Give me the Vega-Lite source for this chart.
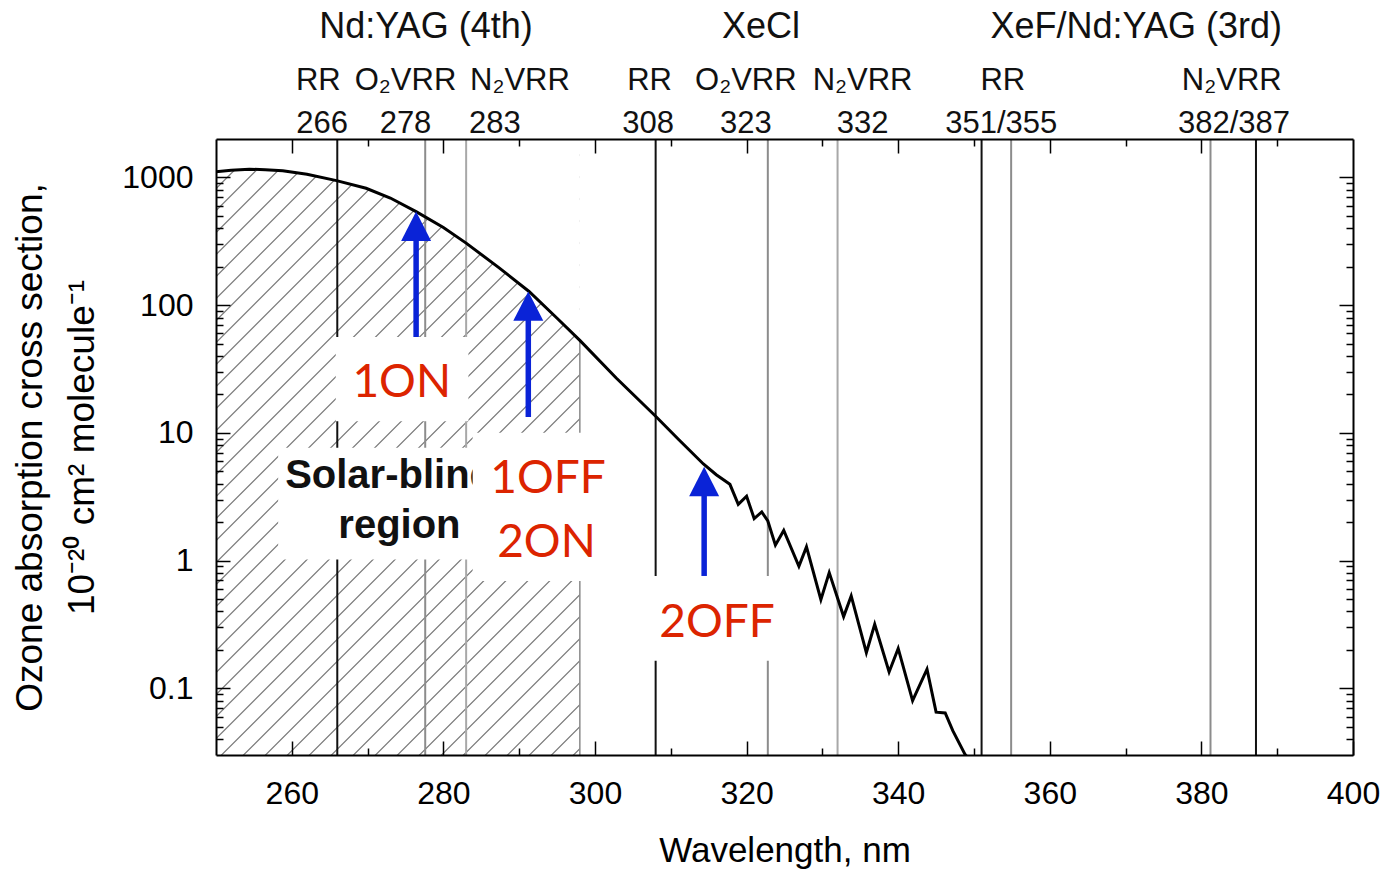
{
  "$schema": "https://vega.github.io/schema/vega-lite/v6.json",
  "width": 1137,
  "height": 616,
  "autosize": {"type": "none"},
  "padding": {"left": 216, "top": 139, "right": 37, "bottom": 116},
  "background": "white",
  "config": {"view": {"stroke": null}, "font": "Liberation Sans"},
  "datasets": {
    "ozone": [
      {"wl": 250, "val": 1110}, {"wl": 252, "val": 1140}, {"wl": 254.4, "val": 1160},
      {"wl": 256.5, "val": 1150}, {"wl": 258.8, "val": 1130}, {"wl": 262, "val": 1060},
      {"wl": 265.9, "val": 944}, {"wl": 269.8, "val": 823}, {"wl": 273, "val": 690},
      {"wl": 276.4, "val": 540}, {"wl": 280, "val": 405}, {"wl": 283, "val": 306},
      {"wl": 287.4, "val": 195}, {"wl": 291.3, "val": 128}, {"wl": 295, "val": 79},
      {"wl": 298, "val": 53}, {"wl": 302.8, "val": 26.9}, {"wl": 308, "val": 13.5},
      {"wl": 311, "val": 8.9}, {"wl": 314.3, "val": 5.7}, {"wl": 316, "val": 4.7},
      {"wl": 317.8, "val": 3.95}, {"wl": 318.9, "val": 2.75}, {"wl": 320, "val": 3.19},
      {"wl": 321, "val": 2.13}, {"wl": 322, "val": 2.4}, {"wl": 322.8, "val": 2.04},
      {"wl": 323.8, "val": 1.32}, {"wl": 324.9, "val": 1.72}, {"wl": 326.9, "val": 0.9},
      {"wl": 327.9, "val": 1.28}, {"wl": 329.8, "val": 0.494}, {"wl": 330.9, "val": 0.804},
      {"wl": 332.8, "val": 0.364}, {"wl": 333.8, "val": 0.528}, {"wl": 335.8, "val": 0.19},
      {"wl": 336.9, "val": 0.317}, {"wl": 338.8, "val": 0.134}, {"wl": 340, "val": 0.205},
      {"wl": 341.9, "val": 0.08}, {"wl": 343.8, "val": 0.141}, {"wl": 345, "val": 0.065},
      {"wl": 346.2, "val": 0.064}, {"wl": 347.2, "val": 0.0465}, {"wl": 348.8, "val": 0.0305},
      {"wl": 349.5, "val": 0.027}
    ],
    "lines": [
      {"wl": 266, "kind": "laser"}, {"wl": 277.6, "kind": "raman"}, {"wl": 283, "kind": "raman2"},
      {"wl": 308, "kind": "laser"}, {"wl": 322.8, "kind": "raman"}, {"wl": 332, "kind": "raman2"},
      {"wl": 351, "kind": "laser"}, {"wl": 354.9, "kind": "raman"}, {"wl": 381.2, "kind": "raman"},
      {"wl": 387.2, "kind": "laser"}
    ],
    "tops": [
      {"wl": 277.7, "row": 1, "text": "Nd:YAG (4th)"},
      {"wl": 321.9, "row": 1, "text": "XeCl"},
      {"wl": 371.4, "row": 1, "text": "XeF/Nd:YAG (3rd)"},
      {"wl": 263.5, "row": 2, "text": "RR"},
      {"wl": 275.0, "row": 2, "text": "O₂VRR"},
      {"wl": 290.1, "row": 2, "text": "N₂VRR"},
      {"wl": 307.2, "row": 2, "text": "RR"},
      {"wl": 319.9, "row": 2, "text": "O₂VRR"},
      {"wl": 335.3, "row": 2, "text": "N₂VRR"},
      {"wl": 353.8, "row": 2, "text": "RR"},
      {"wl": 384.0, "row": 2, "text": "N₂VRR"},
      {"wl": 264.0, "row": 3, "text": "266"},
      {"wl": 275.0, "row": 3, "text": "278"},
      {"wl": 286.8, "row": 3, "text": "283"},
      {"wl": 307.0, "row": 3, "text": "308"},
      {"wl": 319.9, "row": 3, "text": "323"},
      {"wl": 335.3, "row": 3, "text": "332"},
      {"wl": 353.6, "row": 3, "text": "351/355"},
      {"wl": 384.3, "row": 3, "text": "382/387"}
    ],
    "boxes": [
      {"box": "solar", "x1": 258.2, "x2": 284.8, "y1": 7.63, "y2": 1.02},
      {"box": "1ON", "x1": 265.8, "x2": 283.3, "y1": 56.3, "y2": 12.3},
      {"box": "1OFF", "x1": 283.86, "x2": 301.3, "y1": 10.0, "y2": 0.692},
      {"box": "2OFF", "x1": 307.5, "x2": 323.9, "y1": 0.757, "y2": 0.164}
    ],
    "notes": [
      {"wl": 274.5, "val": 24.7, "text": "1ON", "group": "beam"},
      {"wl": 293.8, "val": 4.33, "text": "1OFF", "group": "beam"},
      {"wl": 293.6, "val": 1.38, "text": "2ON", "group": "beam"},
      {"wl": 316.1, "val": 0.327, "text": "2OFF", "group": "beam"},
      {"wl": 272.9, "val": 4.61, "text": "Solar-blind", "group": "region"},
      {"wl": 274.2, "val": 1.88, "text": "region", "group": "region"}
    ],
    "arrows": [
      {"wl": 276.4, "base": 56.3, "top": 415, "tip": 540},
      {"wl": 291.2, "base": 13.3, "top": 98.2, "tip": 128},
      {"wl": 314.4, "base": 0.757, "top": 4.16, "tip": 5.42}
    ]
  },
  "layer": [
    {
      "data": {"values": [{}]},
      "mark": {
        "type": "point",
        "shape": "M-2.15,1l2,-2m-1.95,2l2,-2m-1.95,2l2,-2m-1.95,2l2,-2m-1.95,2l2,-2m-1.95,2l2,-2m-1.95,2l2,-2m-1.95,2l2,-2m-1.95,2l2,-2m-1.95,2l2,-2m-1.95,2l2,-2m-1.95,2l2,-2m-1.95,2l2,-2m-1.95,2l2,-2m-1.95,2l2,-2m-1.95,2l2,-2m-1.95,2l2,-2m-1.95,2l2,-2m-1.95,2l2,-2m-1.95,2l2,-2m-1.95,2l2,-2m-1.95,2l2,-2m-1.95,2l2,-2m-1.95,2l2,-2m-1.95,2l2,-2m-1.95,2l2,-2m-1.95,2l2,-2m-1.95,2l2,-2m-1.95,2l2,-2m-1.95,2l2,-2m-1.95,2l2,-2m-1.95,2l2,-2m-1.95,2l2,-2m-1.95,2l2,-2m-1.95,2l2,-2m-1.95,2l2,-2m-1.95,2l2,-2m-1.95,2l2,-2m-1.95,2l2,-2m-1.95,2l2,-2m-1.95,2l2,-2m-1.95,2l2,-2m-1.95,2l2,-2m-1.95,2l2,-2m-1.95,2l2,-2m-1.95,2l2,-2m-1.95,2l2,-2m-1.95,2l2,-2m-1.95,2l2,-2m-1.95,2l2,-2",
        "filled": false,
        "size": 774400,
        "stroke": "#7a7a7a",
        "strokeWidth": 1.2,
        "opacity": 1,
        "clip": true
      },
      "encoding": {
        "x": {"datum": 274, "type": "quantitative", "scale": {"domain": [250, 400], "nice": false, "zero": false}, "axis": null},
        "y": {"datum": 7.8, "type": "quantitative", "scale": {"type": "log", "domain": [0.03, 2000], "nice": false}, "axis": null}
      }
    },
    {
      "data": {"name": "ozone"},
      "transform": [{"filter": "datum.wl <= 298"}],
      "mark": {"type": "area", "color": "white", "opacity": 1, "clip": true},
      "encoding": {
        "x": {"field": "wl", "type": "quantitative", "scale": {"domain": [250, 400], "nice": false, "zero": false}, "axis": null},
        "y": {"field": "val", "type": "quantitative", "scale": {"type": "log", "domain": [0.03, 2000], "nice": false}, "axis": null},
        "y2": {"datum": 2000}
      }
    },
    {
      "data": {"values": [{}]},
      "mark": {"type": "rect", "color": "white", "opacity": 1},
      "encoding": {
        "x": {"datum": 298, "type": "quantitative", "axis": null},
        "x2": {"datum": 400},
        "y": {"datum": 0.03, "type": "quantitative", "scale": {"type": "log", "domain": [0.03, 2000], "nice": false}, "axis": null},
        "y2": {"datum": 2000}
      }
    },
    {
      "data": {"values": [{}]},
      "mark": {"type": "rule", "color": "#8a8a8a", "strokeWidth": 1.5},
      "encoding": {
        "x": {"datum": 298, "type": "quantitative", "axis": null},
        "y": {"datum": 0.03, "type": "quantitative", "scale": {"type": "log", "domain": [0.03, 2000], "nice": false}, "axis": null},
        "y2": {"datum": 53}
      }
    },
    {
      "data": {"name": "lines"},
      "mark": {"type": "rule", "strokeWidth": 2},
      "encoding": {
        "x": {"field": "wl", "type": "quantitative", "axis": null},
        "color": {
          "field": "kind",
          "type": "nominal",
          "scale": {"domain": ["laser", "raman", "raman2"], "range": ["#111111", "#8c8c8c", "#a8a8a8"]},
          "legend": null
        }
      }
    },
    {
      "data": {"name": "ozone"},
      "mark": {"type": "line", "color": "black", "strokeWidth": 3, "clip": true},
      "encoding": {
        "x": {
          "field": "wl",
          "type": "quantitative",
          "scale": {"domain": [250, 400], "nice": false, "zero": false},
          "axis": {
            "orient": "bottom",
            "values": [260, 270, 280, 290, 300, 310, 320, 330, 340, 350, 360, 370, 380, 390, 400],
            "labelExpr": "datum.value % 20 == 0 ? datum.label : ''",
            "tickSize": {"condition": {"test": "datum.value % 20 == 0", "value": -14}, "value": -7},
            "tickColor": "black",
            "tickWidth": 1.5,
            "domainColor": "black",
            "domainWidth": 2,
            "grid": false,
            "labelFontSize": 32,
            "labelColor": "black",
            "labelPadding": 37,
            "labelOverlap": false,
            "labelFlush": false,
            "title": "Wavelength, nm",
            "titleFontSize": 35,
            "titleFontWeight": "normal",
            "titleColor": "black",
            "titlePadding": 17,
            "zindex": 1
          }
        },
        "y": {
          "field": "val",
          "type": "quantitative",
          "scale": {"type": "log", "domain": [0.03, 2000], "nice": false},
          "axis": {
            "orient": "left",
            "values": [0.04, 0.05, 0.06, 0.07, 0.08, 0.09, 0.1, 0.2, 0.3, 0.4, 0.5, 0.6, 0.7, 0.8, 0.9, 1, 2, 3, 4, 5, 6, 7, 8, 9, 10, 20, 30, 40, 50, 60, 70, 80, 90, 100, 200, 300, 400, 500, 600, 700, 800, 900, 1000],
            "format": "~g",
            "labelExpr": "indexof([0.1, 1, 10, 100, 1000], datum.value) >= 0 ? datum.label : ''",
            "tickSize": {"condition": {"test": "indexof([0.1, 1, 10, 100, 1000], datum.value) >= 0", "value": -14}, "value": -7},
            "tickColor": "black",
            "tickWidth": 1.5,
            "domainColor": "black",
            "domainWidth": 2,
            "grid": false,
            "labelFontSize": 32,
            "labelColor": "black",
            "labelPadding": 37,
            "labelOverlap": false,
            "labelFlush": false,
            "title": ["Ozone absorption cross section,", "10⁻²⁰ cm² molecule⁻¹"],
            "titleFontSize": 37,
            "titleFontWeight": "normal",
            "titleColor": "black",
            "titleLineHeight": 52,
            "titlePadding": 20,
            "zindex": 1
          }
        }
      }
    },
    {
      "data": {"name": "boxes"},
      "transform": [{"filter": "datum.box == 'solar'"}],
      "mark": {"type": "rect", "color": "white", "opacity": 1},
      "encoding": {
        "x": {"field": "x1", "type": "quantitative", "axis": null},
        "x2": {"field": "x2"},
        "y": {"field": "y1", "type": "quantitative", "scale": {"type": "log", "domain": [0.03, 2000], "nice": false}, "axis": null},
        "y2": {"field": "y2"}
      }
    },
    {
      "data": {"name": "notes"},
      "transform": [{"filter": "datum.group == 'region'"}],
      "mark": {"type": "text", "font": "Liberation Sans", "fontWeight": "bold", "fontSize": 40, "color": "#111111", "align": "center", "baseline": "middle"},
      "encoding": {
        "x": {"field": "wl", "type": "quantitative", "axis": null},
        "y": {"field": "val", "type": "quantitative", "scale": {"type": "log", "domain": [0.03, 2000], "nice": false}, "axis": null},
        "text": {"field": "text"}
      }
    },
    {
      "data": {"name": "boxes"},
      "transform": [{"filter": "datum.box != 'solar'"}],
      "mark": {"type": "rect", "color": "white", "opacity": 1},
      "encoding": {
        "x": {"field": "x1", "type": "quantitative", "axis": null},
        "x2": {"field": "x2"},
        "y": {"field": "y1", "type": "quantitative", "scale": {"type": "log", "domain": [0.03, 2000], "nice": false}, "axis": null},
        "y2": {"field": "y2"}
      }
    },
    {
      "data": {"name": "arrows"},
      "mark": {"type": "rule", "color": "#0a23d7", "strokeWidth": 5.5},
      "encoding": {
        "x": {"field": "wl", "type": "quantitative", "axis": null},
        "y": {"field": "base", "type": "quantitative", "scale": {"type": "log", "domain": [0.03, 2000], "nice": false}, "axis": null},
        "y2": {"field": "top"}
      }
    },
    {
      "data": {"name": "arrows"},
      "mark": {"type": "point", "shape": "M0,0L1.02,2L-1.02,2Z", "filled": true, "size": 864, "color": "#0a23d7", "opacity": 1},
      "encoding": {
        "x": {"field": "wl", "type": "quantitative", "axis": null},
        "y": {"field": "tip", "type": "quantitative", "scale": {"type": "log", "domain": [0.03, 2000], "nice": false}, "axis": null}
      }
    },
    {
      "data": {"name": "notes"},
      "transform": [{"filter": "datum.group == 'beam'"}],
      "mark": {"type": "text", "font": "Lato", "fontSize": 46, "color": "#dc2400", "align": "center", "baseline": "middle"},
      "encoding": {
        "x": {"field": "wl", "type": "quantitative", "axis": null},
        "y": {"field": "val", "type": "quantitative", "scale": {"type": "log", "domain": [0.03, 2000], "nice": false}, "axis": null},
        "text": {"field": "text"}
      }
    },
    {
      "data": {"name": "tops"},
      "transform": [{"filter": "datum.row == 1"}],
      "mark": {"type": "text", "fontSize": 36, "color": "#111111", "align": "center", "baseline": "alphabetic", "dy": -101},
      "encoding": {
        "x": {"field": "wl", "type": "quantitative", "axis": null},
        "y": {"datum": 2000, "type": "quantitative", "scale": {"type": "log", "domain": [0.03, 2000], "nice": false}, "axis": null},
        "text": {"field": "text"}
      }
    },
    {
      "data": {"name": "tops"},
      "transform": [{"filter": "datum.row == 2"}],
      "mark": {"type": "text", "fontSize": 31, "color": "#111111", "align": "center", "baseline": "alphabetic", "dy": -49},
      "encoding": {
        "x": {"field": "wl", "type": "quantitative", "axis": null},
        "y": {"datum": 2000, "type": "quantitative", "scale": {"type": "log", "domain": [0.03, 2000], "nice": false}, "axis": null},
        "text": {"field": "text"}
      }
    },
    {
      "data": {"name": "tops"},
      "transform": [{"filter": "datum.row == 3"}],
      "mark": {"type": "text", "fontSize": 31, "color": "#111111", "align": "center", "baseline": "alphabetic", "dy": -6},
      "encoding": {
        "x": {"field": "wl", "type": "quantitative", "axis": null},
        "y": {"datum": 2000, "type": "quantitative", "scale": {"type": "log", "domain": [0.03, 2000], "nice": false}, "axis": null},
        "text": {"field": "text"}
      }
    },
    {
      "data": {"values": [{}]},
      "mark": {"type": "point", "opacity": 0},
      "encoding": {
        "x": {
          "datum": 300,
          "type": "quantitative",
          "scale": {"domain": [250, 400], "nice": false, "zero": false},
          "axis": {
            "orient": "top",
            "values": [260, 270, 280, 290, 300, 310, 320, 330, 340, 350, 360, 370, 380, 390],
            "labels": false,
            "title": null,
            "tickSize": {"condition": {"test": "datum.value % 20 == 0", "value": -14}, "value": -7},
            "tickColor": "black",
            "tickWidth": 1.5,
            "domainColor": "black",
            "domainWidth": 2,
            "grid": false,
            "zindex": 1
          }
        },
        "y": {
          "datum": 1,
          "type": "quantitative",
          "scale": {"type": "log", "domain": [0.03, 2000], "nice": false},
          "axis": {
            "orient": "right",
            "values": [0.04, 0.05, 0.06, 0.07, 0.08, 0.09, 0.1, 0.2, 0.3, 0.4, 0.5, 0.6, 0.7, 0.8, 0.9, 1, 2, 3, 4, 5, 6, 7, 8, 9, 10, 20, 30, 40, 50, 60, 70, 80, 90, 100, 200, 300, 400, 500, 600, 700, 800, 900, 1000],
            "labels": false,
            "title": null,
            "tickSize": {"condition": {"test": "indexof([0.1, 1, 10, 100, 1000], datum.value) >= 0", "value": -14}, "value": -7},
            "tickColor": "black",
            "tickWidth": 1.5,
            "domainColor": "black",
            "domainWidth": 2,
            "grid": false,
            "zindex": 1
          }
        }
      }
    }
  ],
  "resolve": {"axis": {"x": "independent", "y": "independent"}}
}
